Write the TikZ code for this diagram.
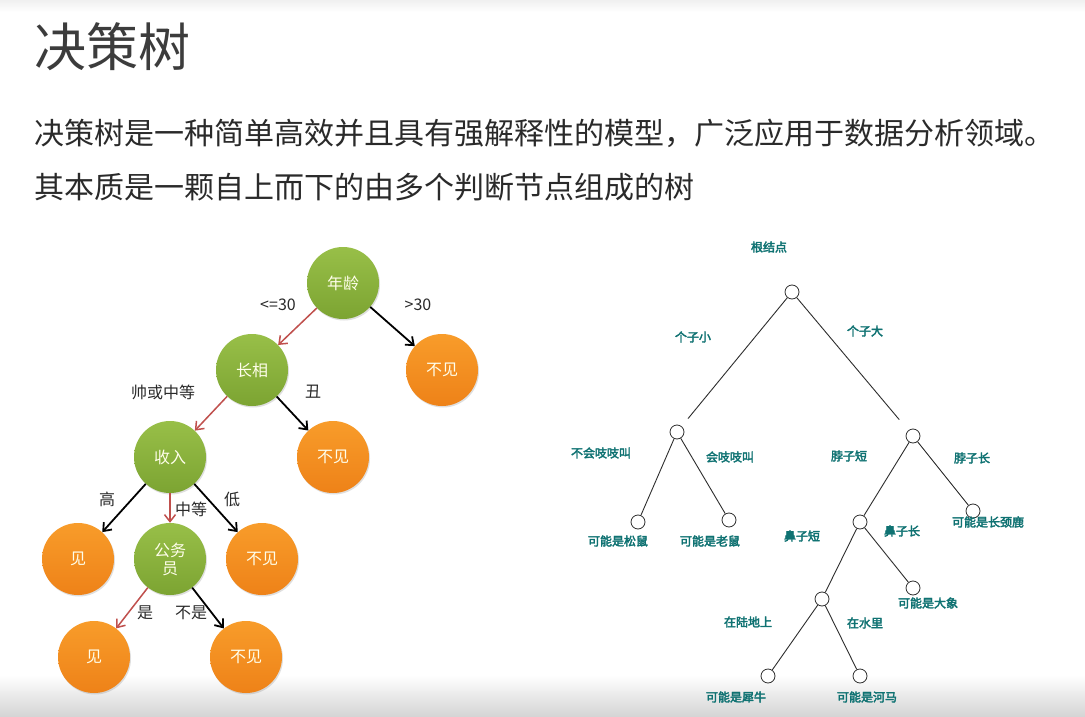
\documentclass[tikz,border=0pt]{standalone}
\usepackage{fontspec}
\setmainfont{Noto Sans CJK SC}
\newfontfamily\labelfont[FakeBold=3]{Noto Sans CJK SC}
\usetikzlibrary{arrows.meta,shadows}
\definecolor{titlegray}{HTML}{3C3C3C}
\definecolor{bodygray}{HTML}{2A2A2A}
\definecolor{greentop}{HTML}{98BF48}
\definecolor{greenbot}{HTML}{7CA432}
\definecolor{orangetop}{HTML}{F89C2A}
\definecolor{orangebot}{HTML}{EE8218}
\definecolor{pathred}{HTML}{C0504D}
\definecolor{teal}{HTML}{0F7272}
\definecolor{treeline}{HTML}{2E2E2E}
\tikzset{
  ball/.style={circle, minimum size=72pt, inner sep=0pt, text=white!92!yellow,
    font=\fontsize{16}{18}\selectfont, align=center,
    drop shadow={shadow xshift=1pt, shadow yshift=-1.5pt, opacity=0.25}},
  testnode/.style={ball, top color=greentop, bottom color=greenbot},
  leafnode/.style={ball, top color=orangetop, bottom color=orangebot},
  yesarrow/.style={draw=pathred, line width=1.5pt, -{Straight Barb[length=7pt,width=11pt]}},
  noarrow/.style={draw=black, line width=1.8pt, -{Straight Barb[length=7pt,width=11pt]}},
  edgetext/.style={text=bodygray, font=\fontsize{16}{18}\selectfont},
  knot/.style={circle, draw=treeline, fill=white, line width=0.8pt, minimum size=14pt, inner sep=0pt},
  branch/.style={draw=treeline, line width=0.9pt},
  tealtext/.style={text=teal, font=\labelfont\fontsize{12}{14}\selectfont}
}
\begin{document}
\begin{tikzpicture}[x=1pt,y=-1pt]
  % page and soft grey bands at top and bottom
  \useasboundingbox (0,0) rectangle (1085,717);
  \fill[white] (0,0) rectangle (1085,717);
  \shade[top color=black!6, bottom color=white] (0,0) rectangle (1085,12);
  \shade[top color=white, bottom color=black!17] (0,675) rectangle (1085,717);

  % heading and description
  \node[anchor=west, text=titlegray, font=\fontsize{52}{56}\selectfont] (title) at (31,47) {决策树};
  \node[anchor=west, text=bodygray, font=\fontsize{30}{34}\selectfont] (line1) at (31,133)
    {决策树是一种简单高效并且具有强解释性的模型，广泛应用于数据分析领域。};
  \node[anchor=west, text=bodygray, font=\fontsize{30}{34}\selectfont] (line2) at (31,187)
    {其本质是一颗自上而下的由多个判断节点组成的树};

  % ---------- coloured decision tree ----------
  \node[testnode] (age)   at (343,283) {年龄};
  \node[leafnode] (no1)   at (442,370) {不见};
  \node[testnode] (look)  at (252,370) {长相};
  \node[leafnode] (no2)   at (333,457) {不见};
  \node[testnode] (inc)   at (170,457) {收入};
  \node[leafnode] (yes1)  at (78,559)  {见};
  \node[testnode] (job)   at (170,559) {公务\\员};
  \node[leafnode] (no3)   at (262,559) {不见};
  \node[leafnode] (yes2)  at (94,657)  {见};
  \node[leafnode] (no4)   at (246,657) {不见};

  \draw[yesarrow] (age) -- (look);
  \draw[noarrow]  (age) -- (no1);
  \draw[yesarrow] (look) -- (inc);
  \draw[noarrow]  (look) -- (no2);
  \draw[noarrow]  (inc) -- (yes1);
  \draw[yesarrow] (inc) -- (job);
  \draw[noarrow]  (inc) -- (no3);
  \draw[yesarrow] (job) -- (yes2);
  \draw[noarrow]  (job) -- (no4);

  \node[edgetext] (l1) at (278,305) {<=30};
  \node[edgetext] (l2) at (418,305) {>30};
  \node[edgetext] (l3) at (163,392) {帅或中等};
  \node[edgetext] (l4) at (313,392) {丑};
  \node[edgetext] (l5) at (107,499) {高};
  \node[edgetext] (l6) at (191,509) {中等};
  \node[edgetext] (l7) at (232,499) {低};
  \node[edgetext] (l8) at (145,613) {是};
  \node[edgetext] (l9) at (191,613) {不是};

  % ---------- line-drawing tree ----------
  \node[knot] (root) at (792,292) {};
  \node[knot] (small) at (677,432) {};
  \node[knot] (big) at (913,436) {};
  \node[knot] (squirrel) at (638,522) {};
  \node[knot] (rat) at (729,520) {};
  \node[knot] (shortneck) at (860,522) {};
  \node[knot] (giraffe) at (973,511) {};
  \node[knot] (shortnose) at (822,599) {};
  \node[knot] (elephant) at (913,588) {};
  \node[knot] (rhino) at (768,676) {};
  \node[knot] (hippo) at (860,676) {};

  \draw[branch, shorten >=10pt] (root) -- (small);
  \draw[branch, shorten >=14pt] (root) -- (big);
  \draw[branch] (small) -- (squirrel);
  \draw[branch] (small) -- (rat);
  \draw[branch] (big) -- (shortneck);
  \draw[branch] (big) -- (giraffe);
  \draw[branch] (shortneck) -- (shortnose);
  \draw[branch] (shortneck) -- (elephant);
  \draw[branch] (shortnose) -- (rhino);
  \draw[branch] (shortnose) -- (hippo);

  \node[tealtext] (t0)  at (769,247) {根结点};
  \node[tealtext] (t1)  at (693,337) {个子小};
  \node[tealtext] (t2)  at (865,331) {个子大};
  \node[tealtext] (t3)  at (601,453) {不会吱吱叫};
  \node[tealtext] (t4)  at (730,457) {会吱吱叫};
  \node[tealtext] (t5)  at (849,456) {脖子短};
  \node[tealtext] (t6)  at (972,458) {脖子长};
  \node[tealtext] (t7)  at (618,541) {可能是松鼠};
  \node[tealtext] (t8)  at (710,541) {可能是老鼠};
  \node[tealtext] (t9)  at (988,522) {可能是长颈鹿};
  \node[tealtext] (t10) at (802,536) {鼻子短};
  \node[tealtext] (t11) at (902,531) {鼻子长};
  \node[tealtext] (t12) at (928,603) {可能是大象};
  \node[tealtext] (t13) at (748,622) {在陆地上};
  \node[tealtext] (t14) at (865,623) {在水里};
  \node[tealtext] (t15) at (736,697) {可能是犀牛};
  \node[tealtext] (t16) at (867,697) {可能是河马};
\end{tikzpicture}
\end{document}
